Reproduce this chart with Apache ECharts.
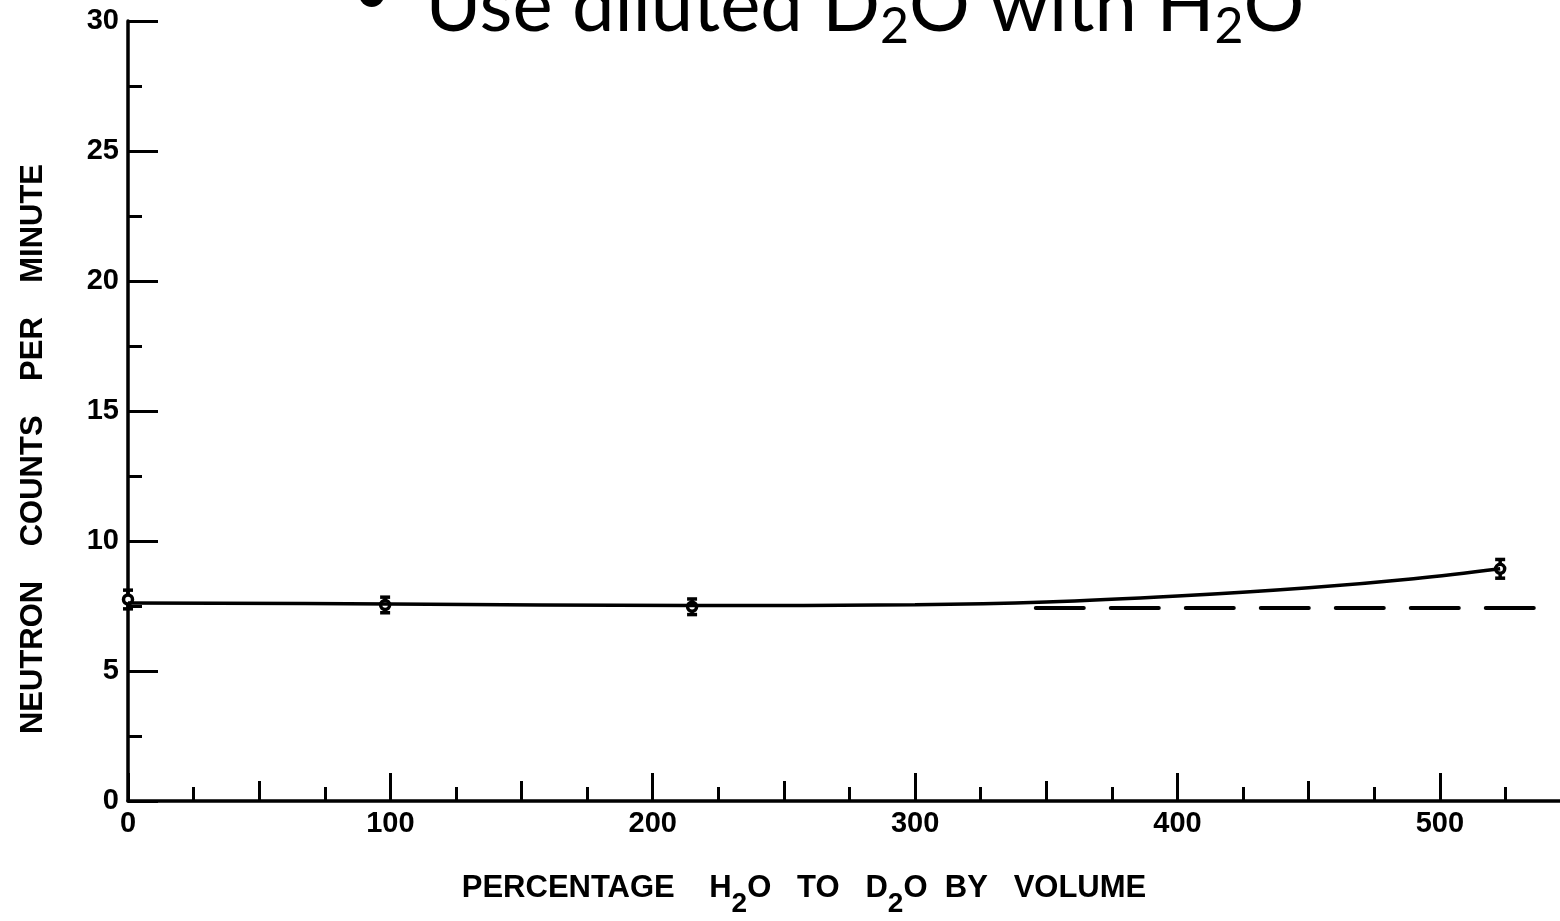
<!DOCTYPE html>
<html><head><meta charset="utf-8">
<script src="https://cdn.jsdelivr.net/npm/echarts@6/dist/echarts.min.js"></script>
<style>html,body{margin:0;padding:0;background:#fff;overflow:hidden}#c{width:1560px;height:921px}</style>
</head><body><div id="c"></div>
<script>
// measured points (x = % H2O to D2O, y = neutron counts per minute, err = half error bar)
const pointX = [0, 98, 215, 523];
const pointY = [7.75, 7.54, 7.47, 8.93];
const pointErr = [0.36, 0.3, 0.3, 0.36];
// hand-drawn fitted curve
const curveX = [0, 100, 215, 300, 350, 400, 450, 490, 523];
const curveY = [7.62, 7.58, 7.52, 7.55, 7.65, 7.88, 8.2, 8.55, 8.93];
// dashed baseline
const baseX = [346, 538];
const baseY = [7.42, 7.42];
// tick labels
const xTickLabels = [0, 100, 200, 300, 400, 500];
const yTickLabels = [0, 5, 10, 15, 20, 25, 30];

const LBL = 'Liberation Sans';
const chart = echarts.init(document.getElementById('c'), null, {renderer: 'canvas'});

const tickStyle = {color: '#000', width: 3};
function xAxisDef(interval, len, withLine, withLabel) {
  return {
    type: 'value', min: 0, max: 550, interval: interval, position: 'bottom',
    splitLine: {show: false},
    axisLine: {show: withLine, lineStyle: {color: '#000', width: 3.5}},
    axisTick: {show: true, inside: true, length: len, lineStyle: tickStyle},
    axisLabel: withLabel ? {
      show: true, margin: 8, color: '#000', fontFamily: LBL, fontWeight: 'bold', fontSize: 29,
      formatter: v => xTickLabels.includes(v) ? String(v) : ''
    } : {show: false}
  };
}
function yAxisDef(interval, len, withLine, withLabel) {
  return {
    type: 'value', min: 0, max: 30, interval: interval, position: 'left',
    splitLine: {show: false},
    axisLine: {show: withLine, lineStyle: {color: '#000', width: 3.5}},
    axisTick: {show: true, inside: true, length: len, lineStyle: tickStyle},
    axisLabel: withLabel ? {
      show: true, margin: 9, color: '#000', fontFamily: LBL, fontWeight: 'bold', fontSize: 29,
      formatter: v => yTickLabels.includes(v) ? String(v) : ''
    } : {show: false}
  };
}

const option = {
  backgroundColor: '#fff',
  animation: false,
  grid: {left: 128, top: 21, width: 1443, height: 780, containLabel: false, outerBoundsMode: 'none'},
  xAxis: [xAxisDef(100, 28, true, true), xAxisDef(50, 20, false, false), xAxisDef(25, 14, false, false)],
  yAxis: [yAxisDef(5, 30, true, true), yAxisDef(2.5, 14, false, false)],
  graphic: [
    {
      type: 'text', x: 352, y: -40,
      style: {
        text: '{b|•}{a|Use diluted D}{s|2}{a|O with H}{s|2}{a|O}',
        align: 'left', verticalAlign: 'top', fill: '#000',
        rich: {
          a: {fontFamily: 'Lato', fontSize: 76, lineHeight: 92, fill: '#000'},
          s: {fontFamily: 'Lato', fontSize: 50, lineHeight: 50, padding: [42, 0, 0, 0], fill: '#000'},
          b: {fontFamily: 'Lato', fontSize: 68, lineHeight: 66, padding: [0, 34, 26, 0], fill: '#000'}
        }
      }
    },
    {
      type: 'text', x: 804, y: 888,
      style: {
        text: '{a|PERCENTAGE    H}{s|2}{a|O   TO   D}{s|2}{a|O  BY   VOLUME}',
        align: 'center', verticalAlign: 'middle', fill: '#000',
        rich: {
          a: {fontFamily: LBL, fontWeight: 'bold', fontSize: 31, lineHeight: 60, fill: '#000'},
          s: {fontFamily: LBL, fontWeight: 'bold', fontSize: 28, lineHeight: 28, padding: [32, 0, 0, 0], fill: '#000'}
        }
      }
    },
    {
      type: 'text', x: 33, y: 449, rotation: Math.PI / 2,
      style: {
        text: 'NEUTRON    COUNTS    PER    MINUTE',
        align: 'center', verticalAlign: 'middle', fill: '#000',
        fontFamily: LBL, fontWeight: 'bold', fontSize: 31
      }
    }
  ],
  series: [
    {
      type: 'line', xAxisIndex: 0, yAxisIndex: 0, smooth: 0.4, symbol: 'none',
      data: curveX.map((x, i) => [x, curveY[i]]),
      lineStyle: {color: '#000', width: 3.5}
    },
    {
      type: 'line', xAxisIndex: 0, yAxisIndex: 0, symbol: 'none',
      data: baseX.map((x, i) => [x, baseY[i]]),
      lineStyle: {color: '#000', width: 4, type: [48, 27], cap: 'round'}
    },
    {
      type: 'custom', xAxisIndex: 0, yAxisIndex: 0, clip: false,
      data: pointX.map((x, i) => [x, pointY[i], pointErr[i]]),
      renderItem: (params, api) => {
        const x = api.value(0), y = api.value(1), e = api.value(2);
        const c = api.coord([x, y]);
        const t = api.coord([x, y + e]);
        const b = api.coord([x, y - e]);
        const st = {stroke: '#000', lineWidth: 3.5};
        return {type: 'group', children: [
          {type: 'line', shape: {x1: c[0], y1: t[1], x2: c[0], y2: b[1]}, style: st},
          {type: 'line', shape: {x1: c[0] - 5, y1: t[1], x2: c[0] + 5, y2: t[1]}, style: st},
          {type: 'line', shape: {x1: c[0] - 5, y1: b[1], x2: c[0] + 5, y2: b[1]}, style: st},
          {type: 'circle', shape: {cx: c[0], cy: c[1], r: 4.5}, style: {fill: '#fff', stroke: '#000', lineWidth: 3.5}}
        ]};
      }
    }
  ]
};
chart.setOption(option);
</script></body></html>
